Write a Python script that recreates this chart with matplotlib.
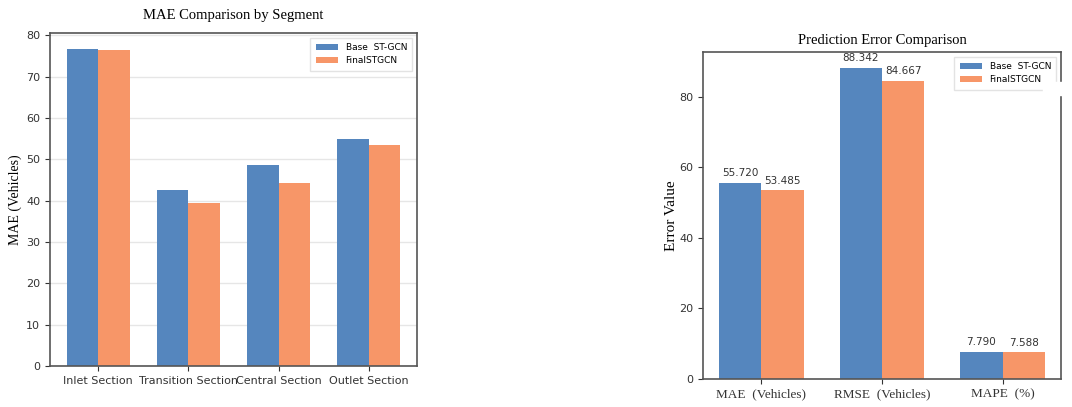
import matplotlib
matplotlib.use('Agg')
import numpy as np
import matplotlib.pyplot as plt
from matplotlib.patches import Rectangle

# data
segments = ['Inlet Section', 'Transition Section', 'Central Section', 'Outlet Section']
seg_base = [76.7, 42.5, 48.5, 54.9]
seg_final = [76.4, 39.5, 44.2, 53.5]

metrics = ['MAE  (Vehicles)', 'RMSE  (Vehicles)', 'MAPE  (%)']
met_base = [55.720, 88.342, 7.790]
met_final = [53.485, 84.667, 7.588]

series_names = ['Base  ST-GCN', 'FinalSTGCN']

blue = '#5586be'
orange = '#f79668'
edge = '#555555'
sans = ['DejaVu Sans']
serif = ['Liberation Serif']

W, H = 1072, 407
fig = plt.figure(figsize=(W / 100, H / 100), dpi=100)
fig.patch.set_facecolor('white')

def style_axes(ax):
    for s in ax.spines.values():
        s.set_color(edge)
        s.set_linewidth(1.2)
    ax.tick_params(colors='#333333', labelsize=8, length=3.5, width=0.8)

width = 0.35

# left: MAE by segment
ax1 = fig.add_axes([50 / W, 1 - 366 / H, 367 / W, 333 / H])
style_axes(ax1)
x = np.arange(len(segments))
ax1.bar(x - width / 2, seg_base, width, color=blue, label=series_names[0])
ax1.bar(x + width / 2, seg_final, width, color=orange, label=series_names[1])
ax1.set_xticks(x)
ax1.set_xticklabels(segments, fontsize=8, fontfamily=sans)
ax1.set_yticks(np.arange(0, 81, 10))
ax1.yaxis.grid(True, color='#e6e6e6', linewidth=1)
ax1.set_axisbelow(True)
ax1.set_title('MAE Comparison by Segment', fontsize=10.5, fontfamily=serif, pad=10)
ax1.set_ylabel('MAE (Vehicles)', fontsize=10, fontfamily=serif, labelpad=3)
ax1.legend(loc='upper right', handlelength=2.5, borderpad=0.6,
           prop={'family': sans, 'size': 6.5}, fancybox=False, edgecolor='#dddddd')

# right: overall metrics
ax2 = fig.add_axes([703 / W, 1 - 379 / H, 358 / W, 327 / H])
style_axes(ax2)
x2 = np.arange(len(metrics))
b1 = ax2.bar(x2 - width / 2, met_base, width, color=blue, label=series_names[0])
b2 = ax2.bar(x2 + width / 2, met_final, width, color=orange, label=series_names[1])
for bars in (b1, b2):
    for r in bars:
        ax2.annotate(f'{r.get_height():.3f}', (r.get_x() + r.get_width() / 2, r.get_height()),
                     xytext=(0, 3), textcoords='offset points', ha='center', va='bottom',
                     fontsize=7.5, color='#333333', fontfamily=sans)
ax2.set_xticks(x2)
ax2.set_xticklabels(metrics, fontsize=9.5, fontfamily=serif)
ax2.set_yticks(np.arange(0, 81, 20))
ax2.set_title('Prediction Error Comparison', fontsize=10.5, fontfamily=serif, pad=6)
ax2.set_ylabel('Error Value', fontsize=11, fontfamily=serif, labelpad=1)
ax2.legend(loc='upper right', handlelength=2.5, borderpad=0.6,
           prop={'family': sans, 'size': 6.5}, fancybox=False, edgecolor='#dddddd')

# white patch where the frame is clipped in the original
fig.patches.append(Rectangle((1043 / W, 1 - 95 / H), 29 / W, 13 / H,
                             transform=fig.transFigure, color='white', zorder=10))

fig.savefig('out.png', dpi=100)
